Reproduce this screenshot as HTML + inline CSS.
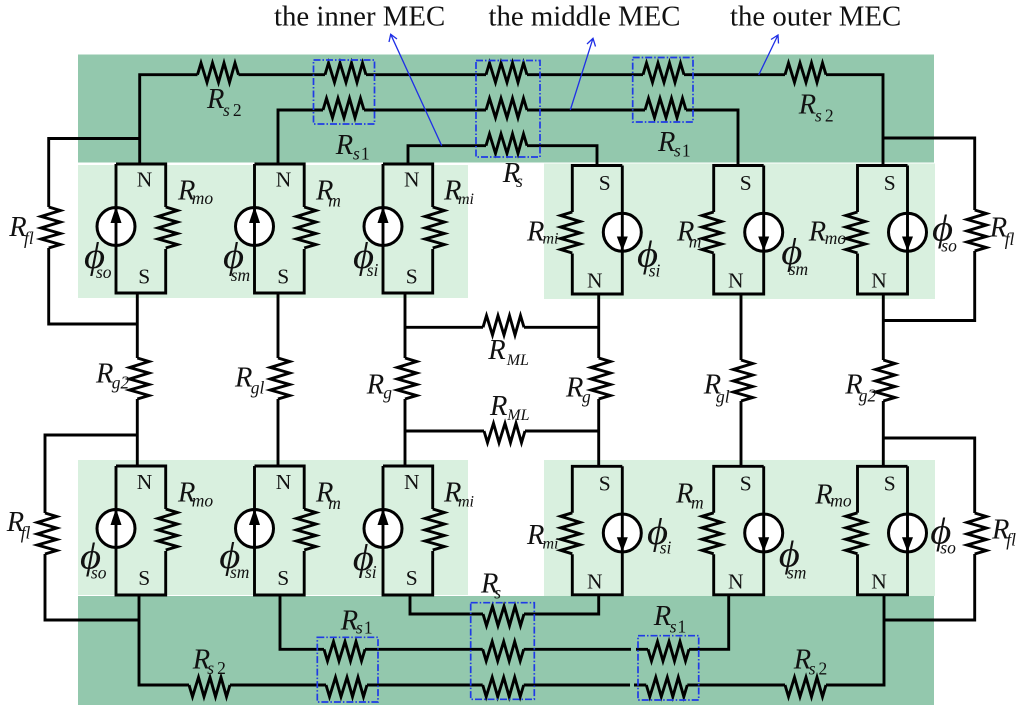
<!DOCTYPE html>
<html lang="en">
<head>
<meta charset="utf-8">
<title>MEC diagram</title>
<style>
html,body{margin:0;padding:0;background:#fff;}
svg{display:block;filter:blur(.35px);}
text{font-family:"Liberation Serif",serif;fill:#111;}
.t{font-size:28.8px;}
.n{font-size:21.5px;}
.R{font-size:28.5px;font-style:italic;}
.u{font-size:17.5px;font-style:italic;}
.m{font-size:16px;font-style:italic;}
.p{font-size:37px;font-style:italic;}
.d{font-style:normal;}
.w{fill:none;stroke:#000;stroke-width:2.9;stroke-linejoin:miter;}
.b{fill:none;stroke:#1f3ae6;stroke-width:1.7;stroke-dasharray:7 2 1.5 2;}
.a{fill:none;stroke:#1f2fe6;stroke-width:1.3;}
</style>
</head>
<body>
<svg width="1024" height="711" viewBox="0 0 1024 711" xmlns="http://www.w3.org/2000/svg">
<defs>
<path id="r" class="w" d="M0 0L3.5 -11.7L9.5 7.7L15 -11.7L21 7.7L26.5 -11.7L32 7.7L37.5 -11.7L41 0"/>
<g id="cl">
<circle cx="0" cy="62.5" r="19" fill="#fff" stroke="#000" stroke-width="3"/>
<path class="w" d="M0 0V129H49.7V85M49.7 43V0H0"/>
<use href="#r" transform="translate(49.7 43) rotate(90)"/>
<path d="M0 42.5L5.5 59H-5.5Z" fill="#000"/>
</g>
<g id="cr">
<circle cx="50" cy="66.7" r="19" fill="#fff" stroke="#000" stroke-width="3"/>
<path class="w" d="M50 0V128.5H0V88M0 46.5V0H50"/>
<use href="#r" transform="translate(0 46.5) rotate(90) scale(1 -1)"/>
<path d="M50 85.5L55.5 71H44.5Z" fill="#000"/>
</g>
</defs>

<rect width="1024" height="711" fill="#fff"/>
<rect x="78" y="54.5" width="856" height="108" fill="#93c8ad"/>
<rect x="78" y="165" width="390" height="133" fill="#d9f0df"/>
<rect x="544" y="163.5" width="391" height="135.5" fill="#d9f0df"/>
<rect x="78" y="460" width="390" height="135" fill="#d9f0df"/>
<rect x="544" y="460" width="391" height="136" fill="#d9f0df"/>
<rect x="78" y="596" width="856" height="109" fill="#93c8ad"/>

<!-- wires -->
<path class="w" d="M139.7 164V74.7H197.5M238.5 74.7H325M366 74.7H486M527 74.7H643M684 74.7H785M826 74.7H883V165"/>
<path class="w" d="M278 164V110H323M364 110H486M527 110H645M686 110H738V165"/>
<path class="w" d="M408 164V145.7H486M527 145.7H597V165"/>
<path class="w" d="M139.7 138.5H48.7V207M48.7 248V324H137.3"/>
<path class="w" d="M883 138H974.7V210M974.7 251V320.5H883.3"/>
<path class="w" d="M137.3 293V358M137.3 399V466M278 293V358M278 399V466M405 293V358M405 399V466M598.7 294V358M598.7 399V466M741 294V360M741 401V466M883.3 294V360M883.3 401V466"/>
<path class="w" d="M405 327.3H483M524 327.3H598.7M405 431H484M525 431H598.7"/>
<path class="w" d="M137.3 435H45V513M45 554V620H139"/>
<path class="w" d="M883.3 438H974.7V513M974.7 554V620H884"/>
<path class="w" d="M139 595V685H189M230 685H326M367 685H482.7M523.7 685H630M634 685H646.3M687.3 685H785M826 685H884V596"/>
<path class="w" d="M280 595V649.3H324M365 649.3H482.7M523.7 649.3H631M636 649.3H648M689 649.3H728.7V595"/>
<path class="w" d="M410 595V614H483M524 614H598.7V595"/>

<!-- horizontal resistors top -->
<use href="#r" transform="translate(197.5 74.7)"/>
<use href="#r" transform="translate(325 74.7)"/>
<use href="#r" transform="translate(486 74.7)"/>
<use href="#r" transform="translate(643 74.7)"/>
<use href="#r" transform="translate(785 74.7)"/>
<use href="#r" transform="translate(323 110)"/>
<use href="#r" transform="translate(486 110)"/>
<use href="#r" transform="translate(645 110)"/>
<use href="#r" transform="translate(486 145.7)"/>
<!-- horizontal resistors mid -->
<use href="#r" transform="translate(483 327.3)"/>
<use href="#r" transform="translate(484 431) scale(1 -1)"/>
<!-- horizontal resistors bottom -->
<use href="#r" transform="translate(189 685) scale(1 -1)"/>
<use href="#r" transform="translate(326 685) scale(1 -1)"/>
<use href="#r" transform="translate(482.7 685) scale(1 -1)"/>
<use href="#r" transform="translate(646.3 685) scale(1 -1)"/>
<use href="#r" transform="translate(785 685) scale(1 -1)"/>
<use href="#r" transform="translate(324 649.3) scale(1 -1)"/>
<use href="#r" transform="translate(482.7 649.3) scale(1 -1)"/>
<use href="#r" transform="translate(648 649.3) scale(1 -1)"/>
<use href="#r" transform="translate(483 614) scale(1 -1)"/>
<!-- vertical resistors -->
<use href="#r" transform="translate(48.7 207) rotate(90)"/>
<use href="#r" transform="translate(974.7 210) rotate(90)"/>
<use href="#r" transform="translate(45 513) rotate(90)"/>
<use href="#r" transform="translate(974.7 513) rotate(90)"/>
<use href="#r" transform="translate(137.3 358) rotate(90)"/>
<use href="#r" transform="translate(278 358) rotate(90)"/>
<use href="#r" transform="translate(405 358) rotate(90)"/>
<use href="#r" transform="translate(598.7 358) rotate(90)"/>
<use href="#r" transform="translate(741 360) rotate(90)"/>
<use href="#r" transform="translate(883.3 360) rotate(90)"/>

<!-- cells -->
<use href="#cl" transform="translate(116 164)"/>
<use href="#cl" transform="translate(254.5 164)"/>
<use href="#cl" transform="translate(383 164)"/>
<use href="#cl" transform="translate(116 466)"/>
<use href="#cl" transform="translate(254.5 466)"/>
<use href="#cl" transform="translate(383 466)"/>
<use href="#cr" transform="translate(572.3 165.5)"/>
<use href="#cr" transform="translate(713.7 165.5)"/>
<use href="#cr" transform="translate(857.5 165.5)"/>
<use href="#cr" transform="translate(572.3 466.3)"/>
<use href="#cr" transform="translate(713.7 466.3)"/>
<use href="#cr" transform="translate(857.5 466.3)"/>

<!-- blue boxes -->
<rect class="b" x="313.5" y="60" width="61" height="64"/>
<rect class="b" x="476" y="60.5" width="64" height="96.5"/>
<rect class="b" x="632.7" y="57.5" width="60.3" height="64.5"/>
<rect class="b" x="317.3" y="637.3" width="60.7" height="64.7"/>
<rect class="b" x="470.7" y="602.7" width="63.6" height="96.6"/>
<rect class="b" x="638" y="635.7" width="60.7" height="64.3"/>

<!-- blue arrows -->
<path class="a" d="M441.7 145.7L390.7 34.3M389 42L390.7 34.3L397 39"/>
<path class="a" d="M570.3 110L593 38.3M587 44L593 38.3L595.5 46.5"/>
<path class="a" d="M758.7 75L778 35M771 39.5L778 35L778.5 43.5"/>

<!-- titles -->
<text class="t" x="274" y="25.7">the inner MEC</text>
<text class="t" x="488.5" y="25.7">the middle MEC</text>
<text class="t" x="730" y="25.7">the outer MEC</text>

<!-- N/S top-left -->
<text class="n" x="136.7" y="186.7">N</text><text class="n" x="138.3" y="283.3">S</text>
<text class="n" x="275.7" y="186.7">N</text><text class="n" x="277.3" y="283.3">S</text>
<text class="n" x="404" y="186.7">N</text><text class="n" x="405.7" y="283.3">S</text>
<!-- N/S top-right -->
<text class="n" x="598.7" y="190">S</text><text class="n" x="587" y="287.3">N</text>
<text class="n" x="739.7" y="190">S</text><text class="n" x="728" y="287.3">N</text>
<text class="n" x="883.7" y="190">S</text><text class="n" x="871.3" y="287.3">N</text>
<!-- N/S bottom-left -->
<text class="n" x="136.7" y="489">N</text><text class="n" x="138.3" y="585">S</text>
<text class="n" x="275.7" y="489">N</text><text class="n" x="277.3" y="585">S</text>
<text class="n" x="404" y="489">N</text><text class="n" x="405.7" y="585">S</text>
<!-- N/S bottom-right -->
<text class="n" x="598.7" y="490.7">S</text><text class="n" x="587" y="588.3">N</text>
<text class="n" x="739.7" y="490.7">S</text><text class="n" x="728" y="588.3">N</text>
<text class="n" x="883.7" y="490.7">S</text><text class="n" x="871.3" y="588.3">N</text>

<!-- top labels -->
<text class="R" x="207" y="108">R</text><text class="u" x="223" y="116">s<tspan class="d" dx="3">2</tspan></text>
<text class="R" x="335.7" y="154">R</text><text class="u" x="353" y="159.5">s<tspan class="d" dx="1">1</tspan></text>
<text class="R" x="502.7" y="182">R</text><text class="u" x="516" y="187">s</text>
<text class="R" x="658" y="151">R</text><text class="u" x="674" y="156.7">s<tspan class="d" dx="1">1</tspan></text>
<text class="R" x="798.7" y="113.3">R</text><text class="u" x="815" y="121.7">s<tspan class="d" dx="3">2</tspan></text>

<text class="R" x="9.3" y="236">R</text><text class="u" x="24" y="244">fl</text>
<text class="R" x="178" y="199.3">R</text><text class="u" x="191.7" y="204">mo</text>
<text class="R" x="316" y="199.3">R</text><text class="u" x="328.3" y="206.7">m</text>
<text class="R" x="444" y="199.3">R</text><text class="m" x="458" y="204">mi</text>
<text class="p" transform="translate(84 268) scale(1.1 1)">ϕ</text><text class="u" x="96" y="278">so</text>
<text class="p" transform="translate(223 268) scale(1.1 1)">ϕ</text><text class="u" x="230.7" y="281">sm</text>
<text class="p" transform="translate(353 268) scale(1.1 1)">ϕ</text><text class="u" x="366.7" y="276">si</text>

<text class="R" x="527" y="240.7">R</text><text class="m" x="542.5" y="243.3">mi</text>
<text class="R" x="677" y="240.7">R</text><text class="u" x="688.7" y="247.3">m</text>
<text class="R" x="808.7" y="240.7">R</text><text class="u" x="824.7" y="244">mo</text>
<text class="p" transform="translate(637 266.7) scale(1.1 1)">ϕ</text><text class="u" x="648.7" y="276.7">si</text>
<text class="p" transform="translate(781.3 264) scale(1.1 1)">ϕ</text><text class="u" x="788.7" y="275">sm</text>
<text class="p" transform="translate(932 240.7) scale(1.1 1)">ϕ</text><text class="u" x="941.3" y="251.7">so</text>
<text class="R" x="989.7" y="236.7">R</text><text class="u" x="1004.7" y="245">fl</text>

<!-- middle labels -->
<text class="R" x="96" y="382.7">R</text><text class="u" x="111.7" y="388.3">g2</text>
<text class="R" x="235" y="386.7">R</text><text class="u" x="250.7" y="393.3">gl</text>
<text class="R" x="366.7" y="393.3">R</text><text class="u" x="383.3" y="398.3">g</text>
<text class="R" x="488.3" y="359">R</text><text class="m" x="506.7" y="365">ML</text>
<text class="R" x="490" y="415">R</text><text class="m" x="507.3" y="420">ML</text>
<text class="R" x="566" y="396.7">R</text><text class="u" x="582" y="402.3">g</text>
<text class="R" x="703.7" y="393.3">R</text><text class="u" x="716" y="402.3">gl</text>
<text class="R" x="845.3" y="393.3">R</text><text class="u" x="858.7" y="401.7">g2</text>

<!-- bottom left labels -->
<text class="R" x="178" y="501.7">R</text><text class="u" x="191.7" y="506.7">mo</text>
<text class="R" x="316" y="501.7">R</text><text class="u" x="328.3" y="509">m</text>
<text class="R" x="444" y="501.7">R</text><text class="m" x="458" y="506.7">mi</text>
<text class="R" x="6.7" y="531">R</text><text class="u" x="20.7" y="538.3">fl</text>
<text class="p" transform="translate(80 568.3) scale(1.1 1)">ϕ</text><text class="u" x="91" y="578.3">so</text>
<text class="p" transform="translate(219.3 568) scale(1.1 1)">ϕ</text><text class="u" x="230" y="578">sm</text>
<text class="p" transform="translate(352.7 570) scale(1.1 1)">ϕ</text><text class="u" x="365" y="578">si</text>
<text class="R" x="481" y="592.7">R</text><text class="u" x="494.3" y="598.3">s</text>
<text class="R" x="340.7" y="629.3">R</text><text class="u" x="356" y="633.3">s<tspan class="d" dx="1">1</tspan></text>
<text class="R" x="192.7" y="668.3">R</text><text class="u" x="207.3" y="674">s<tspan class="d" dx="3">2</tspan></text>

<!-- bottom right labels -->
<text class="R" x="527" y="544">R</text><text class="m" x="542.5" y="548.3">mi</text>
<text class="R" x="676" y="502.3">R</text><text class="u" x="691" y="508.3">m</text>
<text class="R" x="815.3" y="503.3">R</text><text class="u" x="830.3" y="506.7">mo</text>
<text class="p" transform="translate(647 544) scale(1.1 1)">ϕ</text><text class="u" x="659.7" y="553.3">si</text>
<text class="p" transform="translate(778.7 566.7) scale(1.1 1)">ϕ</text><text class="u" x="787" y="578.3">sm</text>
<text class="p" transform="translate(930.3 543.3) scale(1.1 1)">ϕ</text><text class="u" x="940.3" y="553.3">so</text>
<text class="R" x="992" y="538.3">R</text><text class="u" x="1006.3" y="545.7">fl</text>
<text class="R" x="653.7" y="625">R</text><text class="u" x="669.7" y="632.7">s<tspan class="d" dx="1">1</tspan></text>
<text class="R" x="793.7" y="668.3">R</text><text class="u" x="808.7" y="674.3">s<tspan class="d" dx="3">2</tspan></text>
</svg>
</body>
</html>
